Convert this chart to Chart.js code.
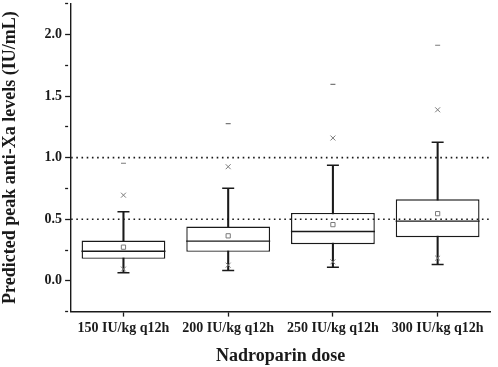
<!DOCTYPE html>
<html>
<head>
<meta charset="utf-8">
<script src="https://cdn.jsdelivr.net/npm/chart.js@4"></script>
<style>
  html, body { margin: 0; padding: 0; background: #fff; }
  #wrap { width: 498px; height: 367px; }
</style>
</head>
<body>
<div id="wrap"><canvas id="doseChart"></canvas></div>
<script>
const doses = ["150 IU/kg q12h", "200 IU/kg q12h", "250 IU/kg q12h", "300 IU/kg q12h"];
const whiskerLow = [0.065, 0.083, 0.11, 0.132];
const q1 = [0.178, 0.235, 0.297, 0.354];
const median = [0.24, 0.322, 0.40, 0.484];
const q3 = [0.327, 0.44, 0.551, 0.662];
const whiskerHigh = [0.56, 0.751, 0.938, 1.124];
const mean = [0.273, 0.365, 0.456, 0.545];
const pctLow = [0.095, 0.127, 0.154, 0.184];
const pctHigh = [0.695, 0.926, 1.159, 1.388];
const maxValues = [0.954, 1.275, 1.594, 1.912];
const refLines = [0.5, 1.0];

const FONT = "'Liberation Serif', 'Times New Roman', serif";
const INK = "#1a1a1a";
const GREY = "#7a7a7a";

const isMajor = (v) => Math.abs(v * 2 - Math.round(v * 2)) < 1e-9;
const hasLabel = (v) => v >= 0 && v <= 2 && isMajor(v);

function markers(data, style, radius, color, extra) {
  return Object.assign({
    type: "line",
    data: data,
    showLine: false,
    pointStyle: style,
    pointRadius: radius,
    pointHoverRadius: radius,
    pointBorderColor: color,
    pointBackgroundColor: color,
    pointBorderWidth: 1,
    order: 1,
  }, extra || {});
}

const datasets = [
  // whisker stems behind the boxes
  {
    type: "bar",
    data: doses.map((d, i) => [whiskerLow[i], whiskerHigh[i]]),
    backgroundColor: INK,
    barThickness: 1.4,
    grouped: false,
    order: 3,
  },
  // boxes
  {
    type: "bar",
    data: doses.map((d, i) => [q1[i], q3[i]]),
    backgroundColor: "#fff",
    borderColor: INK,
    borderWidth: 1.4,
    borderSkipped: false,
    barPercentage: 0.8,
    categoryPercentage: 1.0,
    grouped: false,
    order: 2,
  },
  markers(median, "line", 42, INK, { pointBorderWidth: 1.4 }),
  markers(whiskerHigh, "line", 6, INK, { pointBorderWidth: 1.4 }),
  markers(whiskerLow, "line", 6, INK, { pointBorderWidth: 1.4 }),
  markers(mean, "rect", 3, GREY, { pointBackgroundColor: "#fff" }),
  markers(pctLow, "crossRot", 3.5, GREY),
  markers(pctHigh, "crossRot", 3.5, GREY),
  markers(maxValues, "line", 2.5, GREY, { pointBorderWidth: 1.2 }),
];

// dotted reference lines across the whole plot
refLines.forEach((v) => {
  datasets.push({
    type: "line",
    xAxisID: "x2",
    data: [{ x: 0, y: v }, { x: 1, y: v }],
    borderColor: INK,
    borderWidth: 1.6,
    borderDash: [1.6, 3.6],
    pointRadius: 0,
    order: 0,
  });
});

new Chart(document.getElementById("doseChart"), {
  type: "bar",
  data: { labels: doses, datasets: datasets },
  options: {
    responsive: true,
    maintainAspectRatio: false,
    animation: false,
    layout: { autoPadding: false, padding: { top: 2, right: 8, left: 0, bottom: 0 } },
    plugins: { legend: { display: false }, tooltip: { enabled: false } },
    events: [],
    scales: {
      x: {
        type: "category",
        offset: true,
        grid: { offset: false, drawOnChartArea: false, tickLength: 5, color: INK, tickWidth: 1.3 },
        border: { color: INK, width: 1.4 },
        ticks: {
          color: INK,
          padding: 3,
          maxRotation: 0,
          autoSkip: false,
          font: { family: FONT, size: 14, weight: "bold" },
        },
        title: {
          display: true,
          text: "Nadroparin dose",
          color: INK,
          font: { family: FONT, size: 18, weight: "bold" },
          padding: { top: 6, bottom: 0 },
        },
      },
      x2: { type: "linear", display: false, offset: false, min: 0, max: 1 },
      y: {
        min: -0.25,
        max: 2.25,
        position: "left",
        grid: {
          drawOnChartArea: false,
          tickLength: 6,
          tickWidth: 1.3,
          tickColor: INK,
          // minor ticks drawn only half as long
          tickBorderDash: (ctx) => (ctx.tick && isMajor(ctx.tick.value) ? [] : [3, 20]),
        },
        border: { color: INK, width: 1.4 },
        ticks: {
          stepSize: 0.25,
          padding: 3,
          color: INK,
          // unlabelled ticks get a tiny font so they reserve no room
          font: (ctx) => ({
            family: FONT,
            weight: "bold",
            size: ctx.tick && hasLabel(ctx.tick.value) ? 14 : 1,
          }),
          callback: (v) => (hasLabel(v) ? v.toFixed(1) : ""),
        },
        title: {
          display: true,
          text: "Predicted peak anti-Xa levels (IU/mL)",
          color: INK,
          font: { family: FONT, size: 18, weight: "bold" },
          padding: { top: 0, bottom: 20 },
        },
      },
    },
  },
});
</script>
</body>
</html>
